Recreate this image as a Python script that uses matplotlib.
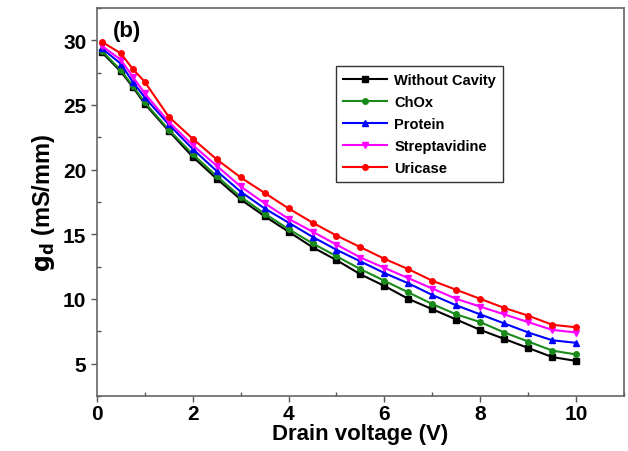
import numpy as np
import matplotlib
matplotlib.use("Agg")
import matplotlib.pyplot as plt
from matplotlib.ticker import MultipleLocator

plt.rcParams['font.family'] = ['Liberation Sans', 'DejaVu Sans']
plt.rcParams['font.weight'] = 'bold'

# drain voltage (V)
vd = [0.1, 0.5, 0.75, 1, 1.5, 2, 2.5, 3, 3.5, 4, 4.5, 5, 5.5, 6, 6.5, 7, 7.5, 8, 8.5, 9, 9.5, 10]

# output conductance gd (mS/mm)
without_cavity = [29.1, 27.6, 26.4, 25.1, 23.0, 21.0, 19.3, 17.7, 16.4, 15.2, 14.0, 13.0, 11.9, 11.0,
                  10.0, 9.2, 8.4, 7.6, 6.9, 6.2, 5.5, 5.2]
chox = [29.2, 27.7, 26.5, 25.2, 23.1, 21.2, 19.5, 17.9, 16.6, 15.4, 14.3, 13.3, 12.3, 11.4,
        10.5, 9.6, 8.8, 8.2, 7.4, 6.7, 6.0, 5.7]
protein = [29.4, 28.2, 26.8, 25.6, 23.5, 21.6, 19.9, 18.3, 17.0, 15.9, 14.8, 13.8, 12.9, 12.0,
           11.2, 10.3, 9.5, 8.8, 8.1, 7.4, 6.8, 6.6]
streptavidine = [29.6, 28.5, 27.2, 25.9, 23.7, 21.9, 20.3, 18.7, 17.4, 16.2, 15.2, 14.2, 13.2, 12.4,
                 11.6, 10.8, 10.0, 9.4, 8.8, 8.2, 7.6, 7.4]
uricase = [29.9, 29.0, 27.8, 26.8, 24.1, 22.4, 20.8, 19.4, 18.2, 17.0, 15.9, 14.9, 14.0, 13.1,
           12.3, 11.4, 10.7, 10.0, 9.3, 8.7, 8.0, 7.8]

series = [
    ("Without Cavity", without_cavity, "black", "s"),
    ("ChOx", chox, "#1a8a1a", "o"),
    ("Protein", protein, "blue", "^"),
    ("Streptavidine", streptavidine, "magenta", "v"),
    ("Uricase", uricase, "red", "o"),
]

fig = plt.figure(figsize=(6.28, 4.52), dpi=100)
ax = fig.add_axes([0.154, 0.122, 0.840, 0.858])

for label, vals, color, marker in series:
    ax.plot(vd, vals, color=color, marker=marker, markersize=4, linewidth=1.5, label=label)

ax.set_xlim(0, 11)
ax.set_ylim(2.5, 32.5)
ax.xaxis.set_major_locator(MultipleLocator(2))
ax.xaxis.set_minor_locator(MultipleLocator(1))
ax.yaxis.set_major_locator(MultipleLocator(5))
ax.yaxis.set_minor_locator(MultipleLocator(2.5))
ax.tick_params(which='major', direction='out', length=4, width=1, labelsize=15, color='#555555')
ax.tick_params(axis='x', which='major', pad=2)
ax.tick_params(which='minor', direction='in', length=3, width=1, color='#555555')
for s in ax.spines.values():
    s.set_color('#666666')
    s.set_linewidth(1.2)

ax.set_xlabel("Drain voltage (V)", fontsize=16, fontweight='bold', labelpad=0)
ax.set_ylabel(r"$\mathbf{g_d}$ (mS/mm)", fontsize=17, fontweight='bold', labelpad=4)

ax.text(0.03, 0.97, "(b)", transform=ax.transAxes, fontsize=16, fontweight='bold', va='top')

leg = ax.legend(loc='upper left', bbox_to_anchor=(0.44, 0.87), frameon=True,
                fancybox=False, edgecolor='black', handlelength=3, borderpad=0.5,
                labelspacing=0.55, handletextpad=0.5, prop={'weight': 'bold', 'size': 10.5})
leg.get_frame().set_linewidth(1.0)

fig.savefig("out.png", dpi=100)
